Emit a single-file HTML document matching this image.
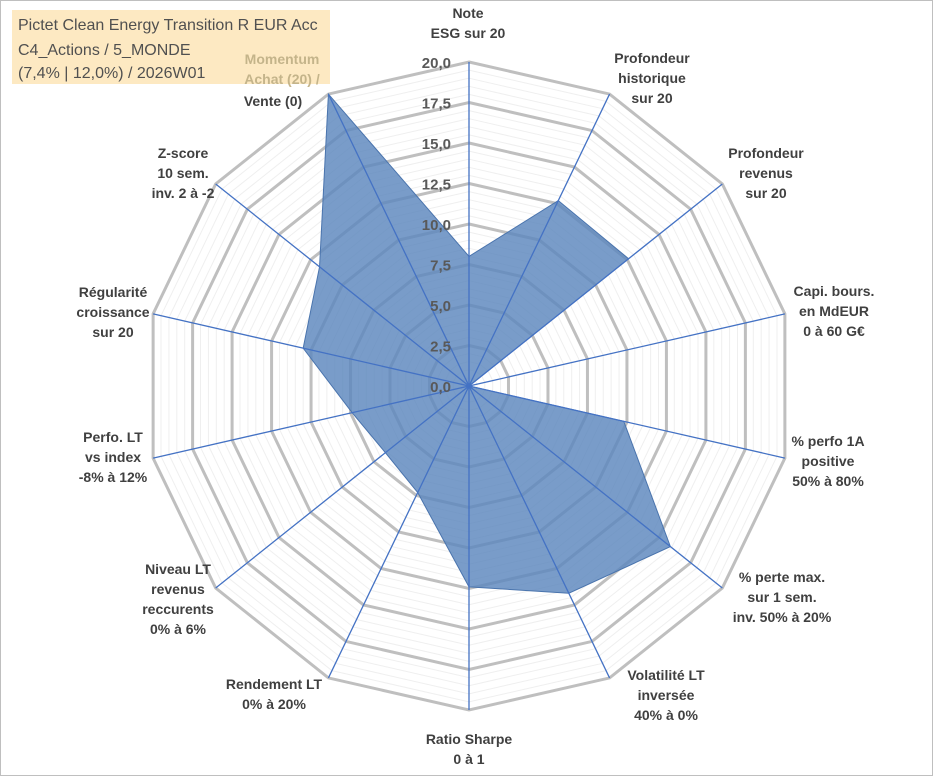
<!DOCTYPE html>
<html><head><meta charset="utf-8"><style>
body{margin:0;background:#fff;}
svg{display:block;font-family:"Liberation Sans",Arial,sans-serif;}
.lab{font-weight:bold;font-size:14px;fill:#404040;text-anchor:middle;}
.tick{font-weight:bold;font-size:15px;fill:#595959;text-anchor:end;}
</style></head><body>
<svg id="chart" width="933" height="776" viewBox="0 0 933 776">
<rect x="0.5" y="0.5" width="932" height="775" fill="#fff" stroke="#bfbfbf"/>
<g id="grid"></g><g id="series"></g><g id="spokes"></g><g id="ticks"></g><g id="labels"></g>
<rect x="12" y="10" width="318" height="74" fill="#fde9c2"/>
<text x="18" y="30" font-size="16" fill="#505050">Pictet Clean Energy Transition R EUR Acc</text>
<text x="18" y="55" font-size="16" fill="#505050">C4_Actions / 5_MONDE</text>
<text x="18" y="78" font-size="16" fill="#505050">(7,4% | 12,0%) / 2026W01</text>
<text class="lab" x="282" y="64" style="fill:#c4b48a">Momentum</text>
<text class="lab" x="282" y="84" style="fill:#c4b48a">Achat (20) /</text>
<text class="lab" x="273" y="106">Vente (0)</text>
</svg>
<script>
const categories=["Note ESG sur 20","Profondeur historique sur 20","Profondeur revenus sur 20","Capi. bours. en MdEUR 0 à 60 G€","% perfo 1A positive 50% à 80%","% perte max. sur 1 sem. inv. 50% à 20%","Volatilité LT inversée 40% à 0%","Ratio Sharpe 0 à 1","Rendement LT 0% à 20%","Niveau LT revenus reccurents 0% à 6%","Perfo. LT vs index -8% à 12%","Régularité croissance sur 20","Z-score 10 sem. inv. 2 à -2","Momentum Achat (20) / Vente (0)"];
const values=[8,12.7,12.6,0,9.8,15.9,14.2,12.4,7.3,6.6,7.4,10.5,11.8,20];
const tickValues=[0,2.5,5,7.5,10,12.5,15,17.5,20];
const tickLabels=["0,0","2,5","5,0","7,5","10,0","12,5","15,0","17,5","20,0"];
const labelLines=[["Note","ESG sur 20"],["Profondeur","historique","sur 20"],["Profondeur","revenus","sur 20"],["Capi. bours.","en MdEUR","0 à 60 G€"],["% perfo 1A","positive","50% à 80%"],["% perte max.","sur 1 sem.","inv. 50% à 20%"],["Volatilité LT","inversée","40% à 0%"],["Ratio Sharpe","0 à 1"],["Rendement LT","0% à 20%"],["Niveau LT","revenus","reccurents","0% à 6%"],["Perfo. LT","vs index","-8% à 12%"],["Régularité","croissance","sur 20"],["Z-score","10 sem.","inv. 2 à -2"],[]];
const labelPos=[[468,18],[652,63],[766,158],[834,296],[828,446],[782,582],[666,680],[469,744],[274,689],[178,574],[113,442],[113,297],[183,158],[0,0]];
const NS="http://www.w3.org/2000/svg";
const cx=469,cy=386,R=324,maxV=20,N=categories.length;
function ang(i){return -Math.PI/2+i*2*Math.PI/N;}
function pt(i,v){const r=v/maxV*R;return [cx+r*Math.cos(ang(i)),cy+r*Math.sin(ang(i))];}
function mk(tag,attrs,parent){const e=document.createElementNS(NS,tag);for(const k in attrs)e.setAttribute(k,attrs[k]);document.getElementById(parent).appendChild(e);return e;}
// minor rings
for(let v=0.5;v<=maxV;v+=0.5){ if(Math.abs(v/2.5-Math.round(v/2.5))<1e-6)continue;
 const p=categories.map((c,i)=>pt(i,v).join(",")).join(" ");
 const e=mk("polygon",{points:p,fill:"none",stroke:"#efefef","stroke-width":1},"grid");
 
 }
tickValues.forEach(v=>{if(v===0)return;
 const p=categories.map((c,i)=>pt(i,v).join(",")).join(" ");
 const e=mk("polygon",{points:p,fill:"none",stroke:"#bfbfbf","stroke-width":3},"grid");
 
 });
// series
const sp=values.map((v,i)=>pt(i,v).join(",")).join(" ");
const s=mk("polygon",{points:sp,fill:"#5b86bd","fill-opacity":0.82,stroke:"#4a74ad","stroke-width":1},"series");


// spokes
categories.forEach((c,i)=>{const [x,y]=pt(i,maxV);
 const l=mk("line",{x1:cx,y1:cy,x2:x,y2:y,stroke:"#4472c4","stroke-width":1.3},"spokes");
 
 });
// ticks
tickValues.forEach((v,k)=>{const y=pt(0,v)[1];
 const t=mk("text",{x:cx-18,y:y+6,class:"tick"},"ticks");t.textContent=tickLabels[k];
 
 });
// labels
labelLines.forEach((lines,i)=>{lines.forEach((ln,j)=>{
 const t=mk("text",{x:labelPos[i][0],y:labelPos[i][1]+j*20,class:"lab"},"labels");t.textContent=ln;
 
 });});
</script>
</body></html>
